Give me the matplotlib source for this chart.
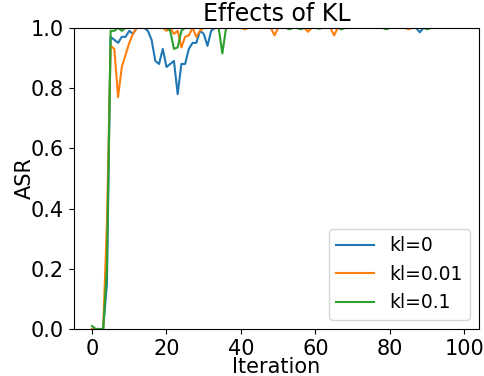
import numpy as np
import matplotlib
matplotlib.use("Agg")
import matplotlib.pyplot as plt

iterations = list(range(100))

# ASR per iteration; dips listed, everything else 1.0
asr_kl0 = [0.0, 0.0, 0.0, 0.0, 0.15, 0.97, 0.96, 0.95, 0.97, 0.97,
           0.99, 0.98, 1.0, 1.0, 1.0, 0.99, 0.96, 0.89, 0.88, 0.93,
           0.87, 0.88, 0.89, 0.78, 0.88, 0.88, 0.93, 0.95, 0.95, 0.99,
           0.98, 0.94, 0.99] + [1.0] * 67
asr_kl001 = [0.0, 0.0, 0.0, 0.0, 0.35, 0.94, 0.93, 0.77, 0.87, 0.91,
             0.95, 0.98, 1.0, 1.0, 1.0, 1.0, 1.0, 1.0, 1.0, 1.0,
             0.99, 1.0, 0.98, 0.99, 0.935, 0.97, 0.975, 1.0, 0.97, 0.99] + [1.0] * 70
asr_kl01 = [0.01, 0.0, 0.0, 0.0, 0.2, 0.99, 0.99, 1.0, 0.99, 1.0] + [1.0] * 90

kl0_dips = {88: 0.985}
kl001_dips = {41: 0.995, 49: 0.975, 58: 0.987, 65: 0.975, 85: 0.995}
kl01_dips = {21: 0.99, 22: 0.93, 23: 0.935, 24: 0.99, 35: 0.915, 53: 0.995,
             56: 0.995, 61: 0.997, 67: 0.995, 79: 0.995, 90: 0.995}

for k, v in kl0_dips.items():
    asr_kl0[k] = v
for k, v in kl001_dips.items():
    asr_kl001[k] = v
for k, v in kl01_dips.items():
    asr_kl01[k] = v

labels = ["kl=0", "kl=0.01", "kl=0.1"]

plt.rcParams['font.size'] = 14
fig = plt.figure(figsize=(4.84, 3.76), dpi=100)
ax = fig.add_axes([0.152, 0.125, 0.838, 0.801])

ax.plot(iterations, asr_kl0, label=labels[0])
ax.plot(iterations, asr_kl001, label=labels[1])
ax.plot(iterations, asr_kl01, label=labels[2])

ax.set_ylim(0, 1)
ax.tick_params(labelsize=15)
ax.set_xlabel("Iteration", fontsize=15, labelpad=-1)
ax.set_ylabel("ASR", fontsize=15, labelpad=-3)
ax.set_title("Effects of KL", fontsize=17, pad=5)
ax.legend(loc="lower right", fontsize=13.5)

fig.savefig("out.png", dpi=100)
